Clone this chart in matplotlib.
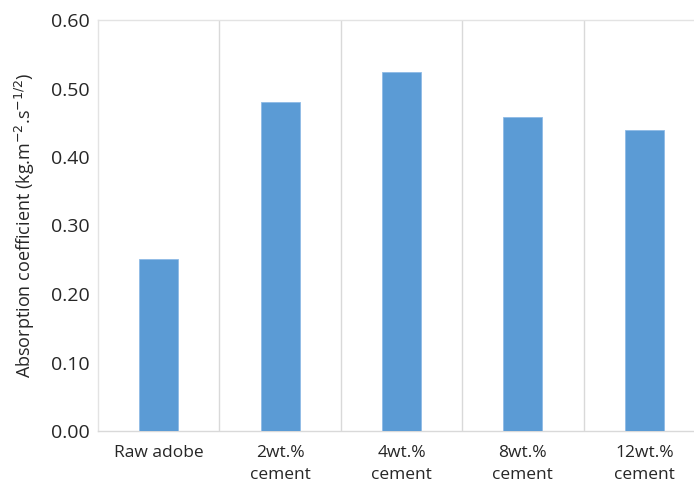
import matplotlib.pyplot as plt
import numpy as np

plt.rcParams['font.family'] = ['Open Sans', 'DejaVu Sans']

categories = ['Raw adobe', '2wt.%\ncement', '4wt.%\ncement', '8wt.%\ncement', '12wt.%\ncement']
values = [0.251, 0.481, 0.524, 0.458, 0.440]
yticks = [0.0, 0.1, 0.2, 0.3, 0.4, 0.5, 0.6]

fig = plt.figure(figsize=(6.94, 4.88), dpi=100)
# plot area runs past the right edge, as in the original crop
ax = fig.add_axes([98 / 694, 57 / 488, 607 / 694, 411 / 488])

x = np.arange(len(categories))
ax.bar(x, values, width=0.32, color='#5b9bd5', edgecolor='#8fbbe6', linewidth=0.6, zorder=3)

ax.set_xlim(-0.5, len(categories) - 0.5)
ax.set_ylim(0, 0.6)
ax.set_yticks(yticks)
ax.set_yticklabels(['%.2f' % v for v in yticks], fontsize=14, color='#262626')
ax.set_xticks(x)
ax.set_xticklabels(categories, fontsize=12.5, color='#262626', linespacing=1.5)
ax.tick_params(axis='y', length=0, pad=6)
ax.tick_params(axis='x', length=0, pad=10)

# vertical separators between categories
for b in x[1:] - 0.5:
    ax.axvline(b, color='#d9d9d9', linewidth=1.0, zorder=1)

for s in ax.spines.values():
    s.set_color('#e3e3e3')
    s.set_linewidth(1.0)
ax.spines['bottom'].set_color('#d9d9d9')
ax.spines['right'].set_visible(False)

ax.set_ylabel('Absorption coefficient (kg.m$^{-2}$.s$^{-1/2}$)', fontsize=13, color='#262626', labelpad=10)

fig.savefig('out.png', dpi=100)
